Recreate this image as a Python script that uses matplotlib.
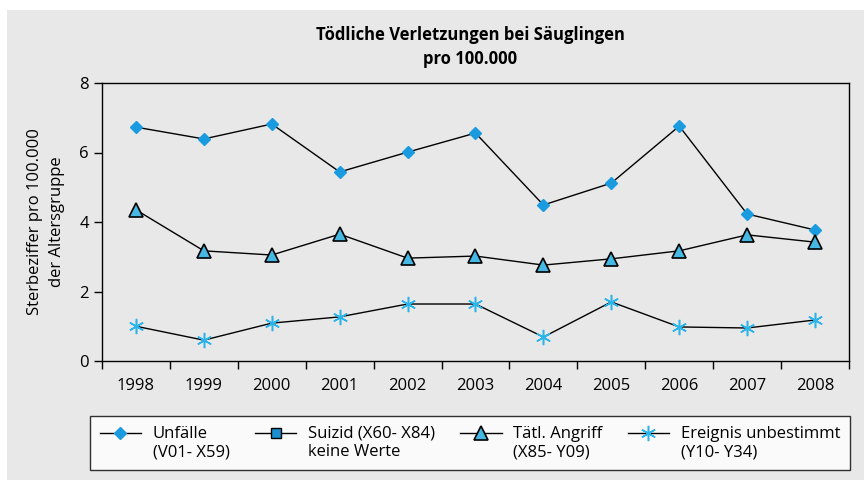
import matplotlib.pyplot as plt
from matplotlib.patches import Rectangle
from matplotlib.legend_handler import HandlerLine2D

plt.rcParams['font.family'] = ['Open Sans', 'DejaVu Sans']

years = ['1998', '1999', '2000', '2001', '2002', '2003', '2004', '2005', '2006', '2007', '2008']
unfaelle = [6.73, 6.39, 6.82, 5.44, 6.01, 6.56, 4.49, 5.12, 6.76, 4.23, 3.77]
angriff = [4.35, 3.17, 3.05, 3.65, 2.96, 3.02, 2.76, 2.94, 3.17, 3.63, 3.42]
unbestimmt = [1.00, 0.60, 1.09, 1.27, 1.64, 1.64, 0.69, 1.70, 0.98, 0.95, 1.18]


class TopLineHandler(HandlerLine2D):
    # legend marker next to the first line of a two-line label
    def create_artists(self, legend, orig_handle, xdescent, ydescent, width, height, fontsize, trans):
        return super().create_artists(legend, orig_handle, xdescent, ydescent - 1.2 * fontsize,
                                      width, height, fontsize, trans)


fig = plt.figure(figsize=(8.64, 4.8), dpi=100, facecolor='white')
fig.patches.append(Rectangle((7 / 864, 0), 1, 1 - 10 / 480, transform=fig.transFigure,
                             facecolor='#e8e8e8', edgecolor='none', zorder=-10))
ax = fig.add_axes([102 / 864, 1 - 361 / 480, 747 / 864, 278 / 480])
ax.set_facecolor('#e8e8e8')

x = range(len(years))
ax.plot(x, unfaelle, color='black', lw=1, marker='D', ms=6, mfc='#1a9be0', mec='#1a9be0',
        label='Unfälle\n(V01- X59)')
ax.plot([], [], color='black', lw=1, marker='s', ms=7, mfc='#1a8fd0', mec='black',
        label='Suizid (X60- X84)\nkeine Werte')
ax.plot(x, angriff, color='black', lw=1, marker='^', ms=10, mfc='#45b8e3', mec='black',
        mew=1.2, label='Tätl. Angriff\n(X85- Y09)')
ax.plot(x, unbestimmt, color='black', lw=1, marker=(6, 2, 0), ms=11, mfc='#2ab4ea',
        mec='#2ab4ea', mew=1.1, label='Ereignis unbestimmt\n(Y10- Y34)')

ax.set_xlim(-0.5, len(years) - 0.5)
ax.set_ylim(0, 8)
ax.set_yticks([0, 2, 4, 6, 8])
ax.set_xticks(list(x))
ax.set_xticklabels(years)
ax.set_xticks([i - 0.5 for i in range(len(years) + 1)], minor=True)
ax.tick_params(axis='x', which='major', length=0, pad=12, labelsize=12)
ax.tick_params(axis='x', which='minor', length=6, width=1)
ax.tick_params(axis='y', length=6, width=1, labelsize=12)
for s in ax.spines.values():
    s.set_linewidth(1)

ax.set_ylabel('Sterbeziffer pro 100.000\nder Altersgruppe', fontsize=12, labelpad=10,
              linespacing=1.5)
fig.text(470 / 864, 1 - 47 / 480, 'Tödliche Verletzungen bei Säuglingen\npro 100.000',
         ha='center', va='center', fontsize=12, fontweight='bold', linespacing=1.45)

handles, labels = ax.get_legend_handles_labels()
leg = fig.legend(handles, labels, loc='center', bbox_to_anchor=(470 / 864, 1 - 443 / 480),
                 ncol=4, fontsize=12, frameon=True, fancybox=False, edgecolor='black',
                 handlelength=2.5, columnspacing=1.5, handletextpad=0.7, borderpad=0.6,
                 handler_map={h: TopLineHandler() for h in handles})
leg.get_frame().set_linewidth(1)
leg.get_frame().set_facecolor('white')

fig.savefig('out.png', dpi=100, facecolor=fig.get_facecolor())
